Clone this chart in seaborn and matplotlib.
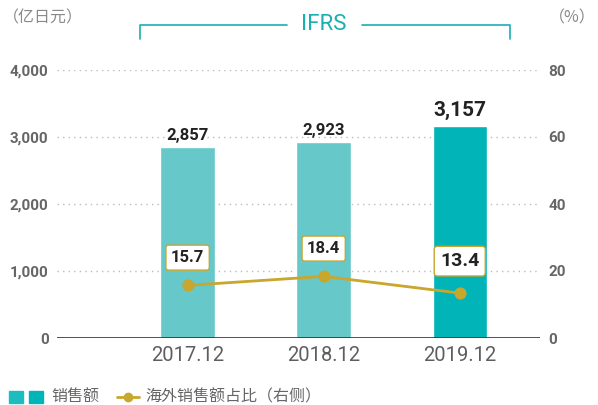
import matplotlib
matplotlib.use("Agg")
import matplotlib.pyplot as plt
import seaborn as sns
import numpy as np
import pandas as pd
from matplotlib.lines import Line2D
from matplotlib.patches import Rectangle

categories = ["2017.12", "2018.12", "2019.12"]
sales = [2857, 2923, 3157]
sales_labels = ["2,857", "2,923", "3,157"]
overseas_ratio = [15.7, 18.4, 13.4]
left_ticks = [0, 1000, 2000, 3000, 4000]
right_ticks = [0, 20, 40, 60, 80]

light_teal = "#66C8C9"
dark_teal = "#00B4B8"
gold = "#C9A62C"
gray = "#666666"
cjk = ["Noto Sans CJK JP", "DejaVu Sans"]

sns.set_theme(style="white")
plt.rcParams["font.family"] = ["Liberation Sans Narrow", "Roboto", "DejaVu Sans"]

fig = plt.figure(figsize=(5.98, 4.05), dpi=100)
ax = fig.add_axes([57/598, 1-338/405, (540-57)/598, (338-70)/405])

df = pd.DataFrame({"cat": categories, "sales": sales})
sns.barplot(data=df, x="cat", y="sales", hue="cat",
            palette=[light_teal, light_teal, dark_teal], legend=False,
            width=0.4, ax=ax, saturation=1)
ax.set_xlim(-0.96, 2.59)
ax.set_ylim(0, 4000)
ax.set_yticks(left_ticks)
ax.set_yticklabels([f"{v:,}" for v in left_ticks], fontsize=11, color=gray, fontweight="bold")
ax.set_xlabel("")
ax.set_ylabel("")
ax.tick_params(axis="x", labelsize=14.5, colors=gray, length=0, pad=6)
ax.tick_params(axis="y", length=0, pad=6)
for lbl in ax.get_xticklabels():
    lbl.set_color("#5E5E5E")
for s in ax.spines.values():
    s.set_visible(False)
for v in left_ticks[1:]:
    ax.axhline(v, color="#BBBBBB", lw=1, ls=(0, (1, 3)), zorder=0)
ax.axhline(0, color="#333333", lw=1.2, zorder=3)

for i, (v, t) in enumerate(zip(sales, sales_labels)):
    big = i == 2
    ax.text(i, v + (60 if not big else 90), t, ha="center", va="bottom",
            fontsize=15 if big else 12, fontweight="bold", color="#222222",
            family=["Roboto", "DejaVu Sans"])

ax2 = ax.twinx()
ax2.set_position(ax.get_position())
xs = np.arange(len(categories))
sns.lineplot(x=xs, y=overseas_ratio, ax=ax2, color=gold, lw=2, marker="o",
             markersize=8, markeredgecolor=gold, zorder=5)
ax2.set_ylim(0, 80)
ax2.set_yticks(right_ticks)
ax2.set_yticklabels([str(v) for v in right_ticks], fontsize=11, color=gray, fontweight="bold")
ax2.tick_params(axis="y", length=0, pad=6)
ax2.set_ylabel("")
for s in ax2.spines.values():
    s.set_visible(False)
ax2.set_xlim(-0.96, 2.59)

for i, v in enumerate(overseas_ratio):
    big = i == 2
    ax2.annotate(f"{v:.1f}", (i, v), xytext=(0, 20 if not big else 23),
                 textcoords="offset points", ha="center", va="center",
                 fontsize=14 if big else 12, fontweight="bold", color="#222222",
                 family=["Roboto", "DejaVu Sans"],
                 bbox=dict(boxstyle="round,pad=0.3,rounding_size=0.15", fc="white",
                           ec=gold, lw=1))

# top annotations
fig.text(3/598, 1-18/405, "（亿日元）", ha="left", va="center", fontsize=11.5,
         color="#8A8A8A", family=cjk)
fig.text(596/598, 1-18/405, "（%）", ha="right", va="center", fontsize=11.5,
         color="#8A8A8A", family=cjk)
fig.text(324/598, 1-25/405, "IFRS", ha="center", va="center", fontsize=16,
         color="#1AAFB2", family=["Roboto", "DejaVu Sans"])
y0 = 1-25/405
y1 = 1-39/405
fig.add_artist(Line2D([140/598, 140/598, 287/598], [y1, y0, y0], color="#1AAFB2", lw=1.2))
fig.add_artist(Line2D([362/598, 510/598, 510/598], [y0, y0, y1], color="#1AAFB2", lw=1.2))

# legend
ly = 1-397/405
fig.add_artist(Rectangle((9/598, ly-6/405), 14/598, 12/405, color="#1DBCBF", transform=fig.transFigure))
fig.add_artist(Rectangle((29/598, ly-6/405), 14/598, 12/405, color=dark_teal, transform=fig.transFigure))
fig.text(51/598, ly, "销售额", ha="left", va="center", fontsize=11.5, color=gray, family=cjk)
fig.add_artist(Line2D([117/598, 139/598], [ly, ly], color=gold, lw=2))
fig.add_artist(Line2D([128/598], [ly], color=gold, marker="o", markersize=6))
fig.text(145/598, ly, "海外销售额占比（右侧）", ha="left", va="center", fontsize=11.5,
         color=gray, family=cjk)

fig.savefig("out.png", dpi=100)
